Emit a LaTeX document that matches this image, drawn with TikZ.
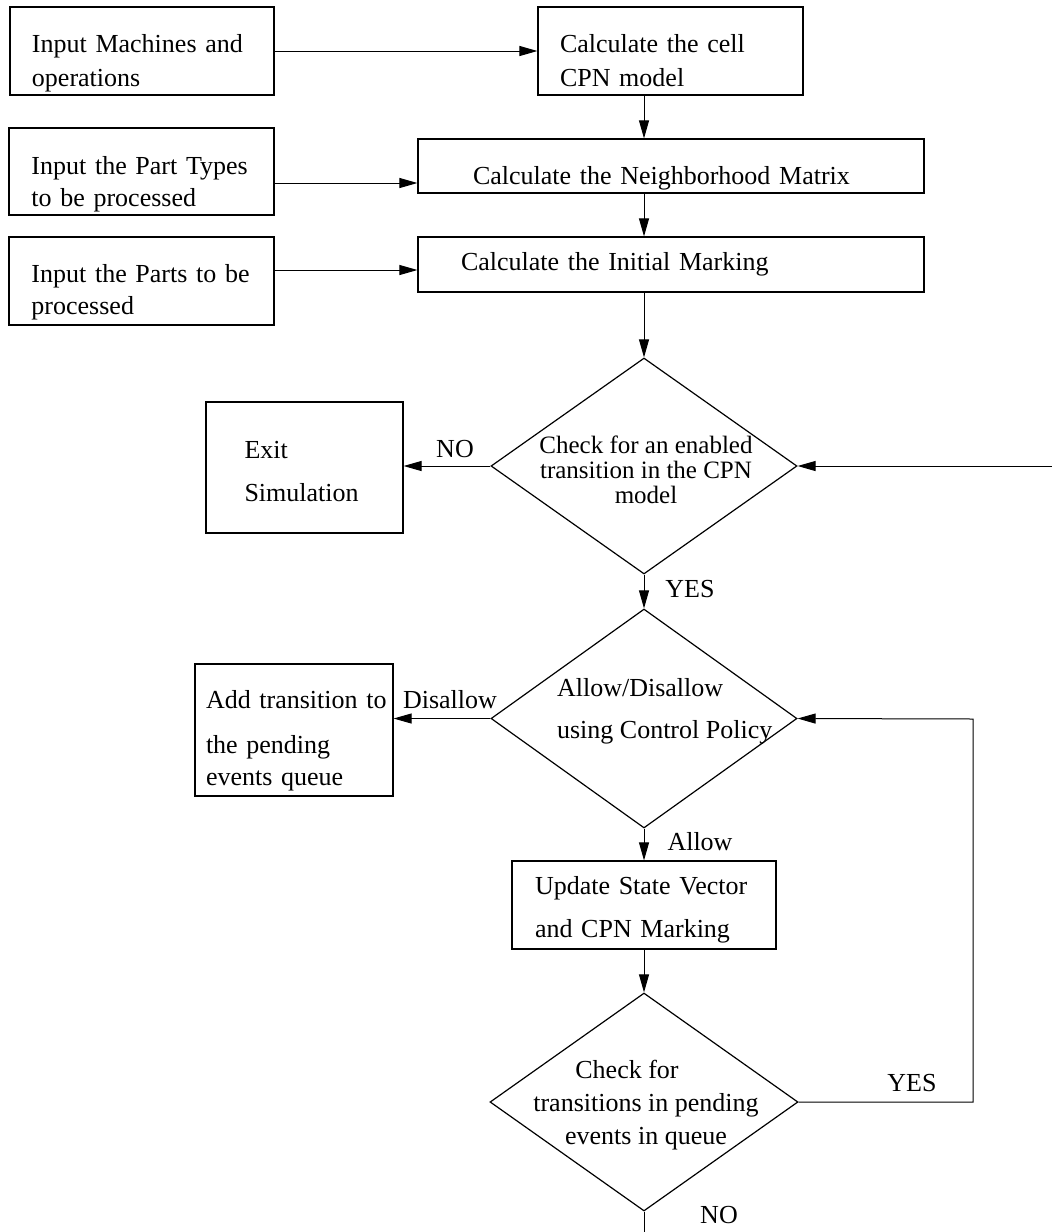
\documentclass[tikz,border=0pt]{standalone}
\usepackage{fontspec}
\setmainfont{Liberation Serif}
\usetikzlibrary{shapes.geometric,arrows.meta}

\begin{document}
\begin{tikzpicture}[
    x=0.5pt, y=-0.5pt,
    font=\fontsize{13}{16}\selectfont,
    box/.style={rectangle, draw, line width=0.6pt, inner sep=0pt, align=left},
    decision/.style={diamond, draw, line width=0.6pt, inner sep=0pt, minimum width=153pt, minimum height=108pt},
    arrow/.style={-{Triangle[length=9pt,width=5pt]}, line width=0.5pt},
    line/.style={line width=0.5pt}
]
    \useasboundingbox (0,0) rectangle (1052,1232);

    % Entrate e modello
    \node[box, minimum width=132pt, minimum height=44pt, text width=110pt, text height=21pt] (inmach) at (142,51) {Input Machines and\\[1pt]operations};
    \node[box, minimum width=132.5pt, minimum height=44pt, text width=110.5pt, text height=19pt] (cellcpn) at (670.5,51) {Calculate the cell\\[1pt]CPN model};
    \node[box, minimum width=132.5pt, minimum height=43.5pt, text width=110pt, text height=22pt] (intypes) at (141.5,171.5) {Input the Part Types\\to be processed};
    \node[box, minimum width=253pt, minimum height=27pt, text width=198pt, text height=21pt] (nbhd) at (671,166) {Calculate the Neighborhood Matrix};
    \node[box, minimum width=132.5pt, minimum height=44pt, text width=110pt, text height=20pt] (inparts) at (141.5,281) {Input the Parts to be\\processed};
    \node[box, minimum width=253pt, minimum height=27.5pt, text width=210pt] (initmark) at (671,264.5) {Calculate the Initial Marking};

    \draw[arrow] (inmach) -- (cellcpn);
    \draw[arrow] ([yshift=-5.75pt]intypes.east) -- ([yshift=-5.75pt]intypes.east -| nbhd.west);
    \draw[arrow] ([yshift=5.5pt]inparts.east) -- ([yshift=5.5pt]inparts.east -| initmark.west);

    % Prima decisione
    \node[decision] (check) at (644,466) {};
    \node[font=\fontsize{12.5}{12.5}\selectfont, align=center] (check-txt) at (646,470) {Check for an enabled\\transition in the CPN\\model};
    \node[box, minimum width=98.5pt, minimum height=65.5pt, text width=60pt, text height=13pt] (exitsim) at (304.5,467.5) {Exit\\[5.5pt]Simulation};
    \coordinate (loopin) at (1052,466);

    \draw[arrow] (cellcpn.south -| check.north) -- (nbhd.north -| check.north);
    \draw[arrow] (nbhd.south -| check.north) -- (initmark.north -| check.north);
    \draw[arrow] (initmark.south -| check.north) -- (check.north);
    \draw[arrow] (check.west) -- (check.west -| exitsim.east);
    \draw[arrow] (loopin) -- (check.east);
    \node (no1) at (455,449) {NO};

    % Politica di controllo
    \node[decision, minimum height=109.5pt] (policy) at (644,718.5) {};
    \node[anchor=west, align=left] (policy-txt) at (550,711) {Allow/Disallow\\[5pt]using Control Policy};
    \node[box, minimum width=99pt, minimum height=66pt, text width=88pt, text height=20pt] (pending) at (294,730) {\mbox{Add transition to}\\[6.5pt]the pending\\events queue};
    \node[box, minimum width=132pt, minimum height=44pt, text width=109pt, text height=14pt] (update) at (644,905) {Update State Vector\\[5.5pt]and CPN Marking};

    \draw[arrow] (check.south) -- (policy.north);
    \node (yes1) at (690,589) {YES};
    \draw[arrow] (policy.west) -- (policy.west -| pending.east);
    \node (disallow) at (450,700) {Disallow};
    \draw[arrow] (policy.south) -- (update.north);
    \node (allow) at (700,842) {Allow};

    % Coda eventi
    \node[decision, minimum width=154pt, minimum height=109pt] (queue) at (644,1102) {};
    \node[align=center] (queue-txt) at (646,1105) {Check for\hspace*{19pt}\\[0.5pt]transitions in pending\\[0.5pt]events in queue};
    \coordinate (loopturn) at (973,719);
    \coordinate (qout) at (644,1232);

    \draw[arrow] (update.south) -- (queue.north);
    \draw[arrow] (queue.east) -| (loopturn) -- (policy.east);
    \node (yes2) at (912,1083) {YES};
    \draw[line] (queue.south) -- (qout);
    \node (no2) at (719,1215) {NO};
\end{tikzpicture}
\end{document}
